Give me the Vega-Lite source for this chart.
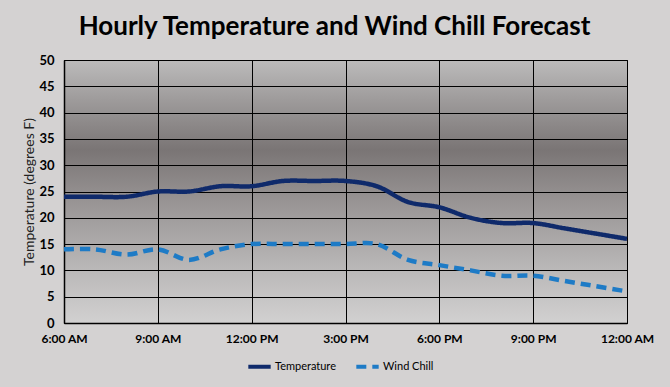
{
  "$schema": "https://vega.github.io/schema/vega-lite/v6.json",
  "width": 563,
  "height": 263,
  "autosize": {"type": "none"},
  "padding": {"left": 64, "top": 60, "right": 43, "bottom": 64},
  "background": "#d4d2d2",
  "title": {
    "text": "Hourly Temperature and Wind Chill Forecast",
    "font": "Lato",
    "fontSize": 26,
    "fontWeight": "bold",
    "color": "#000000",
    "anchor": "middle",
    "offset": 14,
    "dx": -11
  },
  "config": {
    "view": {
      "stroke": "#000000",
      "strokeWidth": 1,
      "fill": {
        "gradient": "linear",
        "x1": 0, "y1": 0, "x2": 0, "y2": 1,
        "stops": [
          {"offset": 0, "color": "#bcbbbb"},
          {"offset": 0.15, "color": "#9e9b9b"},
          {"offset": 0.34, "color": "#7a7575"},
          {"offset": 0.55, "color": "#9a9696"},
          {"offset": 0.78, "color": "#b8b6b6"},
          {"offset": 1, "color": "#d2d1d1"}
        ]
      }
    },
    "axis": {
      "labelFont": "Lato",
      "labelFontWeight": "bold",
      "labelFontSize": 12,
      "labelColor": "#000000",
      "domainColor": "#000000",
      "gridColor": "#000000",
      "gridOpacity": 1,
      "gridWidth": 1,
      "ticks": false,
      "titleFont": "Lato"
    }
  },
  "data": {
    "values": [
      {"hour": 6, "series": "Temperature", "value": 24},
      {"hour": 7, "series": "Temperature", "value": 24},
      {"hour": 8, "series": "Temperature", "value": 24},
      {"hour": 9, "series": "Temperature", "value": 25},
      {"hour": 10, "series": "Temperature", "value": 25},
      {"hour": 11, "series": "Temperature", "value": 26},
      {"hour": 12, "series": "Temperature", "value": 26},
      {"hour": 13, "series": "Temperature", "value": 27},
      {"hour": 14, "series": "Temperature", "value": 27},
      {"hour": 15, "series": "Temperature", "value": 27},
      {"hour": 16, "series": "Temperature", "value": 26},
      {"hour": 17, "series": "Temperature", "value": 23},
      {"hour": 18, "series": "Temperature", "value": 22},
      {"hour": 19, "series": "Temperature", "value": 20},
      {"hour": 20, "series": "Temperature", "value": 19},
      {"hour": 21, "series": "Temperature", "value": 19},
      {"hour": 22, "series": "Temperature", "value": 18},
      {"hour": 23, "series": "Temperature", "value": 17},
      {"hour": 24, "series": "Temperature", "value": 16},
      {"hour": 6, "series": "Wind Chill", "value": 14},
      {"hour": 7, "series": "Wind Chill", "value": 14},
      {"hour": 8, "series": "Wind Chill", "value": 13},
      {"hour": 9, "series": "Wind Chill", "value": 14},
      {"hour": 10, "series": "Wind Chill", "value": 12},
      {"hour": 11, "series": "Wind Chill", "value": 14},
      {"hour": 12, "series": "Wind Chill", "value": 15},
      {"hour": 13, "series": "Wind Chill", "value": 15},
      {"hour": 14, "series": "Wind Chill", "value": 15},
      {"hour": 15, "series": "Wind Chill", "value": 15},
      {"hour": 16, "series": "Wind Chill", "value": 15},
      {"hour": 17, "series": "Wind Chill", "value": 12},
      {"hour": 18, "series": "Wind Chill", "value": 11},
      {"hour": 19, "series": "Wind Chill", "value": 10},
      {"hour": 20, "series": "Wind Chill", "value": 9},
      {"hour": 21, "series": "Wind Chill", "value": 9},
      {"hour": 22, "series": "Wind Chill", "value": 8},
      {"hour": 23, "series": "Wind Chill", "value": 7},
      {"hour": 24, "series": "Wind Chill", "value": 6}
    ]
  },
  "mark": {"type": "line", "interpolate": "catmull-rom", "strokeWidth": 4.5},
  "encoding": {
    "x": {
      "field": "hour",
      "type": "quantitative",
      "scale": {"domain": [6, 24], "nice": false},
      "axis": {
        "title": null,
        "values": [6, 9, 12, 15, 18, 21, 24],
        "labelExpr": "datum.value == 24 ? '12:00 AM' : datum.value == 12 ? '12:00 PM' : datum.value < 12 ? datum.value + ':00 AM' : (datum.value - 12) + ':00 PM'",
        "labelPadding": 10,
        "labelFlush": false,
        "grid": true,
        "domainWidth": 1.5
      }
    },
    "y": {
      "field": "value",
      "type": "quantitative",
      "scale": {"domain": [0, 50], "nice": false},
      "axis": {
        "title": "Temperature (degrees F)",
        "titleFontSize": 14,
        "titleFontWeight": "normal",
        "titleColor": "#222222",
        "titlePadding": 2,
        "values": [0, 5, 10, 15, 20, 25, 30, 35, 40, 45, 50],
        "labelFontSize": 13,
        "labelPadding": 10,
        "domainWidth": 1.5
      }
    },
    "color": {
      "field": "series",
      "type": "nominal",
      "scale": {"domain": ["Temperature", "Wind Chill"], "range": ["#0f2a6b", "#1e7bc6"]},
      "legend": {
        "title": null,
        "orient": "none",
        "legendX": 182,
        "legendY": 293,
        "direction": "horizontal",
        "symbolType": "stroke",
        "symbolStrokeWidth": 4,
        "symbolSize": 500,
        "labelFont": "Lato",
        "labelFontSize": 11,
        "labelColor": "#000000",
        "columnPadding": 12,
        "labelOffset": 2,
        "padding": 0
      }
    },
    "strokeDash": {
      "field": "series",
      "type": "nominal",
      "scale": {"domain": ["Temperature", "Wind Chill"], "range": [[1, 0], [10, 6]]},
      "legend": {
        "title": null,
        "orient": "none",
        "legendX": 182,
        "legendY": 293,
        "direction": "horizontal",
        "symbolType": "stroke",
        "symbolStrokeWidth": 4,
        "symbolSize": 500,
        "labelFont": "Lato",
        "labelFontSize": 11,
        "labelColor": "#000000",
        "columnPadding": 12,
        "labelOffset": 2,
        "padding": 0
      }
    }
  }
}
